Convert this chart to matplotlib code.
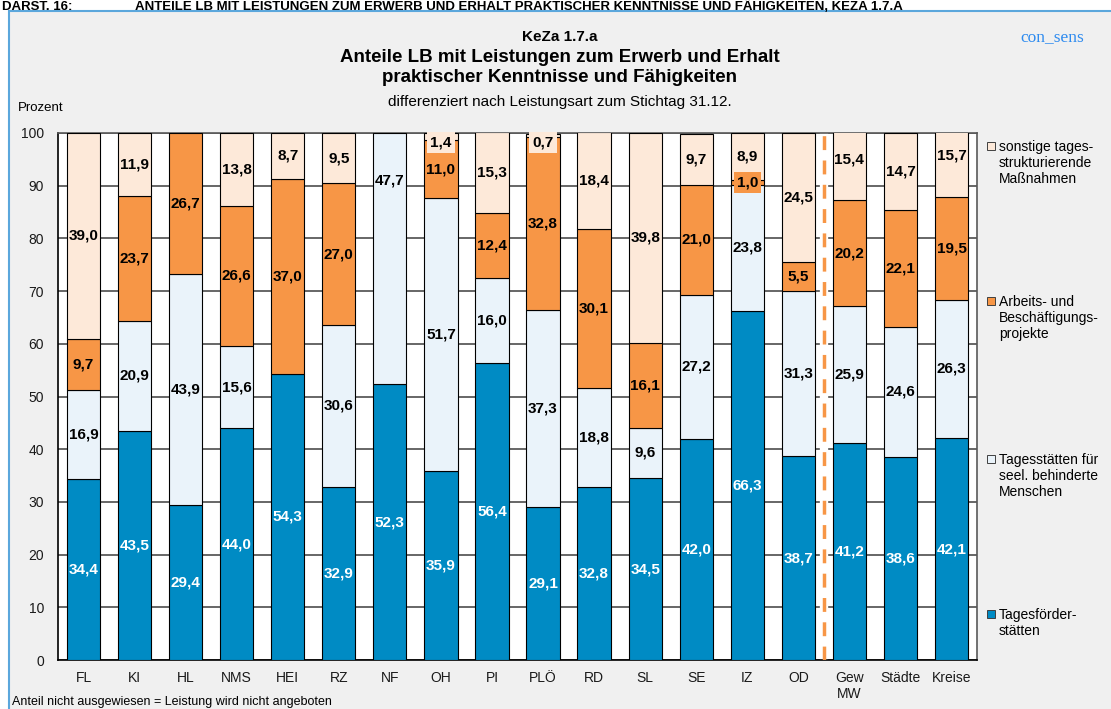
import matplotlib
matplotlib.use("Agg")
import matplotlib.pyplot as plt
import numpy as np
from matplotlib.patches import Rectangle

# categories and shares (percent), bottom to top
categories = ["FL", "KI", "HL", "NMS", "HEI", "RZ", "NF", "OH", "PI", "PLÖ",
              "RD", "SL", "SE", "IZ", "OD", "Gew\nMW", "Städte", "Kreise"]
tagesfoerder = [34.4, 43.5, 29.4, 44.0, 54.3, 32.9, 52.3, 35.9, 56.4, 29.1,
                32.8, 34.5, 42.0, 66.3, 38.7, 41.2, 38.6, 42.1]
tagesstaetten = [16.9, 20.9, 43.9, 15.6, 0.0, 30.6, 47.7, 51.7, 16.0, 37.3,
                 18.8, 9.6, 27.2, 23.8, 31.3, 25.9, 24.6, 26.3]
arbeits = [9.7, 23.7, 26.7, 26.6, 37.0, 27.0, 0.0, 11.0, 12.4, 32.8,
           30.1, 16.1, 21.0, 1.0, 5.5, 20.2, 22.1, 19.5]
sonstige = [39.0, 11.9, 0.0, 13.8, 8.7, 9.5, 0.0, 1.4, 15.3, 0.7,
            18.4, 39.8, 9.7, 8.9, 24.5, 15.4, 14.7, 15.7]

series_names = ["Tagesförder-\nstätten", "Tagesstätten für\nseel. behinderte\nMenschen",
                "Arbeits- und\nBeschäftigungs-\nprojekte", "sonstige tages-\nstrukturierende\nMaßnahmen"]
series = [tagesfoerder, tagesstaetten, arbeits, sonstige]
colors = ["#008BC4", "#EAF3FA", "#F79646", "#FDE9D9"]
label_colors = ["white", "black", "black", "black"]

plt.rcParams["font.family"] = ["Liberation Sans", "DejaVu Sans"]
narrow = ["Liberation Sans Narrow", "Liberation Sans", "DejaVu Sans"]

W, H = 1111, 709
fig = plt.figure(figsize=(W / 100, H / 100), dpi=100, facecolor="white")

# grey panel with light blue border
fig.patches.append(Rectangle((9 / W, -0.05), 1.1, 1 - 11 / H + 0.05, transform=fig.transFigure,
                             facecolor="#F0F0F0", edgecolor="#5BA7DC", lw=1.5, zorder=-5))

# header line above the panel
fig.text(2 / W, 1 - 9.5 / H, "DARST. 16:", fontsize=9.5, fontweight="bold",
         va="baseline", ha="left")
fig.text(135 / W, 1 - 9.5 / H,
         "ANTEILE LB MIT LEISTUNGEN ZUM ERWERB UND ERHALT PRAKTISCHER KENNTNISSE UND FÄHIGKEITEN, KEZA 1.7.A",
         fontsize=9.5, fontweight="bold", va="baseline", ha="left")

cx = 560 / W
fig.text(cx, 1 - 37 / H, "KeZa 1.7.a", fontsize=11, fontweight="bold", ha="center", va="center")
fig.text(cx, 1 - 57 / H, "Anteile LB mit Leistungen zum Erwerb und Erhalt", fontsize=13.5,
         fontweight="bold", ha="center", va="center")
fig.text(cx, 1 - 78 / H, "praktischer Kenntnisse und Fähigkeiten", fontsize=13.5,
         fontweight="bold", ha="center", va="center")
fig.text(cx, 1 - 102 / H, "differenziert nach Leistungsart zum Stichtag 31.12.", fontsize=11,
         ha="center", va="center")
fig.text(1020 / W, 1 - 37 / H, "con_sens", fontsize=12.5, color="#2E8BEF",
         family=["Liberation Serif", "DejaVu Serif"], ha="left", va="center")
fig.text(18 / W, 1 - 108 / H, "Prozent", fontsize=9.5, ha="left", va="center")
fig.text(12 / W, 1 - 702 / H, "Anteil nicht ausgewiesen = Leistung wird nicht angeboten",
         fontsize=9, family=narrow, ha="left", va="center")

ax = fig.add_axes([58 / W, 1 - 660 / H, (977 - 58) / W, (660 - 133) / H])
ax.set_facecolor("white")
x = np.arange(len(categories))
bottom = np.zeros(len(categories))
for vals, col, lcol in zip(series, colors, label_colors):
    vals = np.array(vals)
    mask = vals > 0
    ax.bar(x[mask], vals[mask], bottom=bottom[mask], width=0.65, color=col,
           edgecolor="black", linewidth=0.8, zorder=3)
    for i in np.where(mask)[0]:
        y = bottom[i] + vals[i] / 2
        if categories[i] == "NF" and lcol == "black":
            y = 91  # label moved up in the original
        y = min(y, 98.2)
        # tiny segments get a filled label box, as in the original
        box = None
        if vals[i] < 2:
            box = dict(boxstyle="square,pad=0.2", facecolor=col, edgecolor="none")
        ax.text(x[i], y, f"{vals[i]:.1f}".replace(".", ","), ha="center", va="center",
                fontsize=11, fontweight="bold", color=lcol, zorder=5, clip_on=False, bbox=box)
    bottom = bottom + vals

# divider between districts and averages
ax.axvline(14.5, color="white", lw=6, zorder=2)
ax.axvline(14.5, color="#F79646", lw=2.5, dashes=(4, 3), zorder=4)

ax.set_xlim(-0.5, len(categories) - 0.5)
ax.set_ylim(0, 100)
ax.set_yticks(range(0, 101, 10))
ax.set_xticks(x)
ax.set_xticklabels(categories, fontsize=10)
ax.tick_params(axis="both", length=0, labelsize=10, colors="#1a1a1a")
ax.tick_params(axis="y", pad=10)
ax.tick_params(axis="x", pad=8)
ax.yaxis.grid(True, color="#4d4d4d", lw=1.2, zorder=1)
ax.set_axisbelow(True)
for side in ["left", "bottom"]:
    ax.spines[side].set_color("black")
    ax.spines[side].set_linewidth(1.2)
for side in ["top", "right"]:
    ax.spines[side].set_color("#595959")
    ax.spines[side].set_linewidth(1.2)

# legend at the right, top entry first
legend_y = [146, 301, 459, 614]
for name, col, ly in zip(series_names[::-1], colors[::-1], legend_y):
    fig.patches.append(Rectangle((987 / W, 1 - (ly + 4) / H), 8 / W, 8 / H, transform=fig.transFigure,
                                 facecolor=col, edgecolor="#404040", lw=0.7, zorder=3))
    fig.text(999 / W, 1 - (ly - 6) / H, name, fontsize=10, ha="left", va="top", linespacing=1.2)

fig.savefig("out.png", dpi=100, facecolor=fig.get_facecolor())
